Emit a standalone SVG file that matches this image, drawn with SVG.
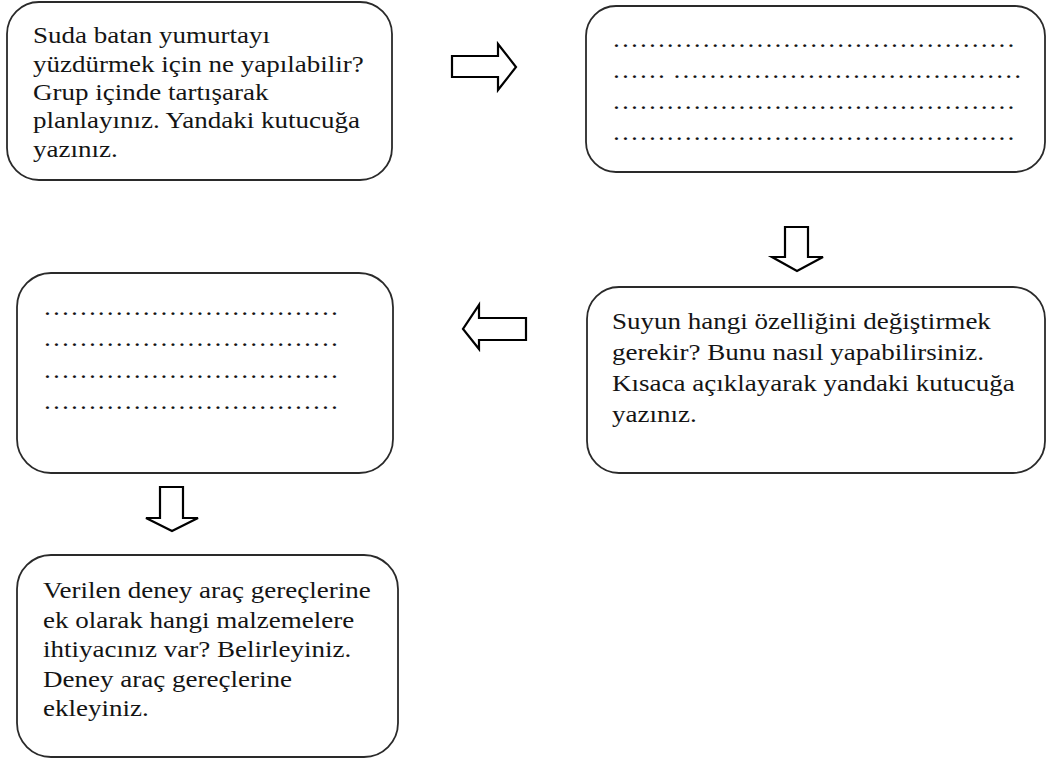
<svg xmlns="http://www.w3.org/2000/svg" width="1047" height="760" viewBox="0 0 1047 760">
<style>
.box{fill:#fff;stroke:#2a2a2a;stroke-width:1.8}
.t{font-family:"Liberation Serif","Times New Roman",serif;font-size:23.5px;fill:#141414}
.d{font-family:"Liberation Serif","Times New Roman",serif;font-size:23.4px;fill:#141414}
.arr{fill:#fff;stroke:#000;stroke-width:2.2;stroke-linejoin:miter}
</style>
<rect width="1047" height="760" fill="#fff"/>
<g id="node1">
<rect class="box" x="7" y="2" width="385" height="178" rx="32" ry="32"/>
<text class="t" transform="translate(33,0) scale(1.15,1)">
<tspan x="0" y="43">Suda batan yumurtayı</tspan>
<tspan x="0" y="72">yüzdürmek için ne yapılabilir?</tspan>
<tspan x="0" y="100">Grup içinde tartışarak</tspan>
<tspan x="0" y="128">planlayınız. Yandaki kutucuğa</tspan>
<tspan x="0" y="157">yazınız.</tspan>
</text>
</g>
<g id="node2">
<rect class="box" x="586" y="6" width="459" height="166" rx="30" ry="30"/>
<text class="d" transform="translate(612,0) scale(1.15,1)">
<tspan x="0" y="47">&#8230;&#8230;&#8230;&#8230;&#8230;&#8230;&#8230;&#8230;&#8230;&#8230;&#8230;&#8230;&#8230;&#8230;&#8230;</tspan>
<tspan x="0" y="78">&#8230;&#8230; &#8230;&#8230;&#8230;&#8230;&#8230;&#8230;&#8230;&#8230;&#8230;&#8230;&#8230;&#8230;&#8230;</tspan>
<tspan x="0" y="109">&#8230;&#8230;&#8230;&#8230;&#8230;&#8230;&#8230;&#8230;&#8230;&#8230;&#8230;&#8230;&#8230;&#8230;&#8230;</tspan>
<tspan x="0" y="140">&#8230;&#8230;&#8230;&#8230;&#8230;&#8230;&#8230;&#8230;&#8230;&#8230;&#8230;&#8230;&#8230;&#8230;&#8230;</tspan>
</text>
</g>
<g id="node3">
<rect class="box" x="17" y="273" width="376" height="200" rx="34" ry="34"/>
<text class="d" transform="translate(43,0) scale(1.15,1)">
<tspan x="0" y="315">&#8230;&#8230;&#8230;&#8230;&#8230;&#8230;&#8230;&#8230;&#8230;&#8230;&#8230;</tspan>
<tspan x="0" y="346">&#8230;&#8230;&#8230;&#8230;&#8230;&#8230;&#8230;&#8230;&#8230;&#8230;&#8230;</tspan>
<tspan x="0" y="378">&#8230;&#8230;&#8230;&#8230;&#8230;&#8230;&#8230;&#8230;&#8230;&#8230;&#8230;</tspan>
<tspan x="0" y="409">&#8230;&#8230;&#8230;&#8230;&#8230;&#8230;&#8230;&#8230;&#8230;&#8230;&#8230;</tspan>
</text>
</g>
<g id="node4">
<rect class="box" x="587" y="287" width="458" height="186" rx="32" ry="32"/>
<text class="t" transform="translate(612,0) scale(1.15,1)">
<tspan x="0" y="329">Suyun hangi özelliğini değiştirmek</tspan>
<tspan x="0" y="360">gerekir? Bunu nasıl yapabilirsiniz.</tspan>
<tspan x="0" y="391">Kısaca açıklayarak yandaki kutucuğa</tspan>
<tspan x="0" y="422">yazınız.</tspan>
</text>
</g>
<g id="node5">
<rect class="box" x="17" y="555" width="381" height="202" rx="34" ry="34"/>
<text class="t" transform="translate(43,0) scale(1.15,1)">
<tspan x="0" y="598">Verilen deney araç gereçlerine</tspan>
<tspan x="0" y="628">ek olarak hangi malzemelere</tspan>
<tspan x="0" y="657">ihtiyacınız var? Belirleyiniz.</tspan>
<tspan x="0" y="687">Deney araç gereçlerine</tspan>
<tspan x="0" y="716">ekleyiniz.</tspan>
</text>
</g>
<g id="connectors">
<polygon class="arr" points="452,56 498,56 498,44 516,67 498,90 498,77 452,77"/>
<polygon class="arr" points="785,227 808,227 808,257 823,257 797,271 772,257 785,257"/>
<polygon class="arr" points="526,318 479,318 479,305 463,329 479,349 479,340 526,340"/>
<polygon class="arr" points="160,487 183,487 183,518 198,518 172,531 146,518 160,518"/>
</g>
</svg>
